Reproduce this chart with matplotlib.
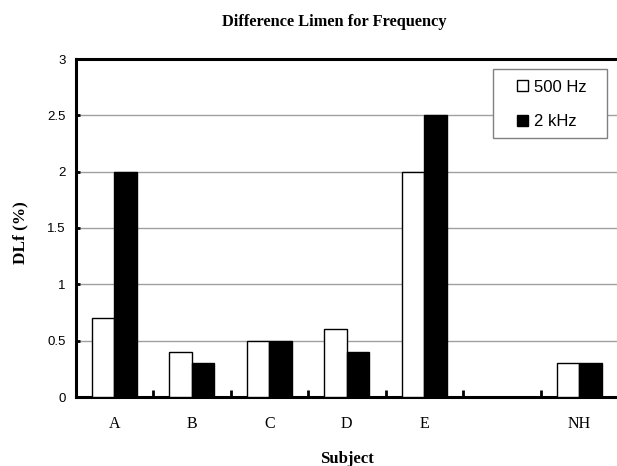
import matplotlib
matplotlib.use("Agg")
import matplotlib.pyplot as plt
from matplotlib.patches import Rectangle, Patch
import numpy as np

categories = ["A", "B", "C", "D", "E", "", "NH"]
dl_500 = [0.7, 0.4, 0.5, 0.6, 2.0, np.nan, 0.3]
dl_2k = [2.0, 0.3, 0.5, 0.4, 2.5, np.nan, 0.3]
series_labels = ["500 Hz", "2 kHz"]
yticks = [0, 0.5, 1, 1.5, 2, 2.5, 3]
ytick_labels = ["0", "0.5", "1", "1.5", "2", "2.5", "3"]

W, H = 617, 466
fig = plt.figure(figsize=(W / 100, H / 100), dpi=100)
ax = fig.add_axes([75.5 / W, 1 - 397 / H, (618 - 75.5) / W, (397 - 59) / H])

x = np.arange(len(categories))
w = 0.29
ax.bar(x - w / 2, dl_500, width=w, color="white", edgecolor="black", linewidth=1.0, zorder=3)
ax.bar(x + w / 2, dl_2k, width=w, color="black", edgecolor="black", linewidth=1.0, zorder=3)

ax.set_xlim(-0.5, len(categories) - 0.5)
ax.set_ylim(0, 3)
ax.set_yticks(yticks)
ax.set_yticklabels(ytick_labels, fontfamily="Liberation Sans", fontsize=9.5)
ax.yaxis.grid(True, color="#a0a0a0", linewidth=1.0, zorder=0)
ax.set_axisbelow(True)

ax.set_xticks(x)
ax.set_xticklabels(categories, fontfamily="Liberation Serif", fontsize=11.5)
ax.set_xticks(np.arange(-0.5, len(categories), 1.0), minor=True)
ax.tick_params(axis="x", which="major", length=0, pad=14)
ax.tick_params(axis="x", which="minor", direction="in", length=5, width=2)
ax.tick_params(axis="y", direction="in", length=3, width=2, pad=7)

for s in ["left", "bottom", "top"]:
    ax.spines[s].set_linewidth(2.2)
ax.spines["right"].set_visible(False)

fig.text(334 / W, 1 - 26 / H, "Difference Limen for Frequency", ha="center", va="baseline",
         fontfamily="Liberation Serif", fontweight="bold", fontsize=11.8)
fig.text(20 / W, 1 - 233 / H, "DLf (%)", ha="center", va="center", rotation=90,
         fontfamily="Liberation Serif", fontweight="bold", fontsize=12.4)
fig.text(347 / W, 1 - 463 / H, "Subject", ha="center", va="baseline",
         fontfamily="Liberation Serif", fontweight="bold", fontsize=12)

# legend box
box = Rectangle((493 / W, 1 - 138 / H), (607 - 493) / W, (138 - 69) / H,
                transform=fig.transFigure, facecolor="white", edgecolor="#808080",
                linewidth=1.0, zorder=4)
ax.add_patch(box)
box.set_clip_on(False)
handles = [Patch(facecolor="white", edgecolor="black", linewidth=1.0),
           Patch(facecolor="black", edgecolor="black", linewidth=1.0)]
leg = ax.legend(handles, series_labels, loc="center", bbox_to_anchor=(552 / W, 1 - 104.5 / H),
                bbox_transform=fig.transFigure, frameon=False,
                prop={"family": "Liberation Sans", "size": 12},
                handlelength=0.65, handleheight=0.65, handletextpad=0.35, labelspacing=1.2)
leg.set_zorder(5)

fig.savefig("out.png", dpi=100)
